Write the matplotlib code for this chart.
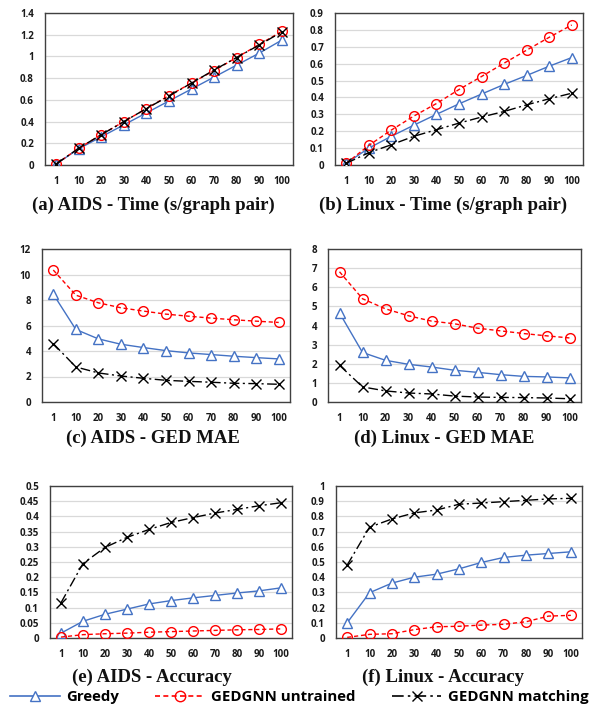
import matplotlib
matplotlib.use("Agg")
import matplotlib.pyplot as plt
from matplotlib.lines import Line2D

x_labels = ["1", "10", "20", "30", "40", "50", "60", "70", "80", "90", "100"]

# (a) AIDS - Time
aids_time_greedy = [0.01, 0.15, 0.26, 0.37, 0.48, 0.59, 0.70, 0.81, 0.92, 1.03, 1.15]
aids_time_untrained = [0.01, 0.155, 0.28, 0.40, 0.52, 0.64, 0.755, 0.87, 0.99, 1.11, 1.23]
aids_time_matching = [0.01, 0.155, 0.28, 0.40, 0.52, 0.635, 0.755, 0.875, 0.99, 1.105, 1.225]

# (b) Linux - Time
linux_time_greedy = [0.01, 0.10, 0.17, 0.236, 0.30, 0.362, 0.42, 0.477, 0.53, 0.585, 0.636]
linux_time_untrained = [0.01, 0.116, 0.207, 0.29, 0.364, 0.447, 0.524, 0.603, 0.68, 0.756, 0.829]
linux_time_matching = [0.01, 0.073, 0.12, 0.17, 0.209, 0.248, 0.284, 0.317, 0.356, 0.392, 0.425]

# (c) AIDS - GED MAE
aids_mae_greedy = [8.46, 5.69, 4.95, 4.53, 4.27, 4.03, 3.85, 3.72, 3.59, 3.48, 3.38]
aids_mae_untrained = [10.35, 8.38, 7.78, 7.39, 7.13, 6.89, 6.73, 6.58, 6.45, 6.34, 6.24]
aids_mae_matching = [4.58, 2.75, 2.28, 2.04, 1.86, 1.70, 1.62, 1.55, 1.47, 1.44, 1.39]

# (d) Linux - GED MAE
linux_mae_greedy = [4.66, 2.59, 2.18, 1.97, 1.83, 1.66, 1.55, 1.43, 1.34, 1.31, 1.26]
linux_mae_untrained = [6.81, 5.40, 4.87, 4.51, 4.23, 4.09, 3.86, 3.72, 3.58, 3.46, 3.35]
linux_mae_matching = [1.92, 0.79, 0.58, 0.47, 0.42, 0.31, 0.26, 0.24, 0.23, 0.21, 0.17]

# (e) AIDS - Accuracy
aids_acc_greedy = [0.016, 0.055, 0.078, 0.095, 0.112, 0.123, 0.132, 0.140, 0.148, 0.155, 0.165]
aids_acc_untrained = [0.003, 0.011, 0.014, 0.016, 0.019, 0.021, 0.023, 0.025, 0.027, 0.028, 0.030]
aids_acc_matching = [0.116, 0.245, 0.298, 0.331, 0.357, 0.380, 0.396, 0.411, 0.423, 0.435, 0.445]

# (f) Linux - Accuracy
linux_acc_greedy = [0.10, 0.298, 0.361, 0.40, 0.42, 0.455, 0.497, 0.53, 0.545, 0.556, 0.567]
linux_acc_untrained = [0.004, 0.024, 0.028, 0.055, 0.074, 0.077, 0.085, 0.09, 0.107, 0.144, 0.149]
linux_acc_matching = [0.48, 0.729, 0.783, 0.823, 0.842, 0.88, 0.888, 0.897, 0.906, 0.915, 0.919]

series_names = ["Greedy", "GEDGNN untrained", "GEDGNN matching"]

panels = [
    ("(a) AIDS - Time (s/graph pair)", aids_time_greedy, aids_time_untrained, aids_time_matching,
     [0, 0.2, 0.4, 0.6, 0.8, 1, 1.2, 1.4], ["0", "0.2", "0.4", "0.6", "0.8", "1", "1.2", "1.4"]),
    ("(b) Linux - Time (s/graph pair)", linux_time_greedy, linux_time_untrained, linux_time_matching,
     [0, 0.1, 0.2, 0.3, 0.4, 0.5, 0.6, 0.7, 0.8, 0.9], ["0", "0.1", "0.2", "0.3", "0.4", "0.5", "0.6", "0.7", "0.8", "0.9"]),
    ("(c) AIDS - GED MAE", aids_mae_greedy, aids_mae_untrained, aids_mae_matching,
     [0, 2, 4, 6, 8, 10, 12], ["0", "2", "4", "6", "8", "10", "12"]),
    ("(d) Linux - GED MAE", linux_mae_greedy, linux_mae_untrained, linux_mae_matching,
     [0, 1, 2, 3, 4, 5, 6, 7, 8], ["0", "1", "2", "3", "4", "5", "6", "7", "8"]),
    ("(e) AIDS - Accuracy", aids_acc_greedy, aids_acc_untrained, aids_acc_matching,
     [0, 0.05, 0.1, 0.15, 0.2, 0.25, 0.3, 0.35, 0.4, 0.45, 0.5],
     ["0", "0.05", "0.1", "0.15", "0.2", "0.25", "0.3", "0.35", "0.4", "0.45", "0.5"]),
    ("(f) Linux - Accuracy", linux_acc_greedy, linux_acc_untrained, linux_acc_matching,
     [0, 0.1, 0.2, 0.3, 0.4, 0.5, 0.6, 0.7, 0.8, 0.9, 1],
     ["0", "0.1", "0.2", "0.3", "0.4", "0.5", "0.6", "0.7", "0.8", "0.9", "1"]),
]

W, H = 589, 704
# pixel boxes: left, right, top, bottom
boxes = [
    (45, 293, 13, 165),
    (335, 583, 13, 165),
    (42, 290, 249, 402),
    (328, 581, 249, 402),
    (50, 292, 486, 638),
    (336, 582, 486, 638),
]
# caption centres (pixels)
captions = [(153, 205), (443, 205), (153, 438), (444, 438), (152, 677), (443, 677)]

BLUE = "#4472C4"
RED = "#FF0000"
BLACK = "#000000"
dashdot = (0, (7, 2.5, 1.5, 2.5))

fig = plt.figure(figsize=(W / 100, H / 100), dpi=100)

for (title, g, u, m, yt, ytl), (l, r, t, b), (cx, cy) in zip(panels, boxes, captions):
    ax = fig.add_axes([l / W, 1 - b / H, (r - l) / W, (b - t) / H])
    xs = list(range(len(x_labels)))
    ax.plot(xs, g, color=BLUE, lw=1.0, marker="^", ms=7, mfc="white", mec=BLUE, mew=1.0, zorder=3)
    ax.plot(xs, u, color=RED, lw=1.0, ls=(0, (3, 2)), marker="o", ms=7, mfc="none", mec=RED, mew=1.0, zorder=4)
    ax.plot(xs, m, color=BLACK, lw=1.0, ls=dashdot, marker="x", ms=6.5, mec=BLACK, mew=1.0, zorder=5)
    ax.set_xlim(-0.5, len(x_labels) - 0.5)
    ax.set_ylim(yt[0], yt[-1])
    ax.set_xticks(xs)
    ax.set_xticklabels(x_labels)
    ax.set_yticks(yt)
    ax.set_yticklabels(ytl)
    ax.tick_params(axis="x", length=0, labelsize=7, pad=8)
    ax.tick_params(axis="y", length=0, labelsize=7, pad=8)
    for lab in ax.get_xticklabels() + ax.get_yticklabels():
        lab.set_fontfamily("Open Sans")
        lab.set_fontweight("bold")
        lab.set_color("#1a1a1a")
    ax.grid(axis="y", color="#D9D9D9", lw=0.9)
    ax.set_axisbelow(True)
    for sp in ax.spines.values():
        sp.set_color("#404040")
        sp.set_linewidth(1.0)
    fig.text(cx / W, 1 - cy / H, title, ha="center", va="center", fontsize=13.5,
             fontfamily="Liberation Serif", fontweight="bold", color="#111111")

handles = [
    Line2D([], [], color=BLUE, lw=1.2, marker="^", ms=7.5, mfc="white", mec=BLUE),
    Line2D([], [], color=RED, lw=1.2, ls=(0, (3, 2)), marker="o", ms=7.5, mfc="none", mec=RED),
    Line2D([], [], color=BLACK, lw=1.2, ls=dashdot, marker="x", ms=7.5, mec=BLACK),
]
leg = fig.legend(handles, series_names, loc="center left", bbox_to_anchor=(10 / W, 1 - 697 / H), ncol=3,
                 frameon=False, handlelength=3.3, columnspacing=2.4, handletextpad=0.45,
                 borderpad=0, borderaxespad=0,
                 prop={"family": "Open Sans", "weight": "bold", "size": 10.8})

fig.savefig("out.png", dpi=100)
